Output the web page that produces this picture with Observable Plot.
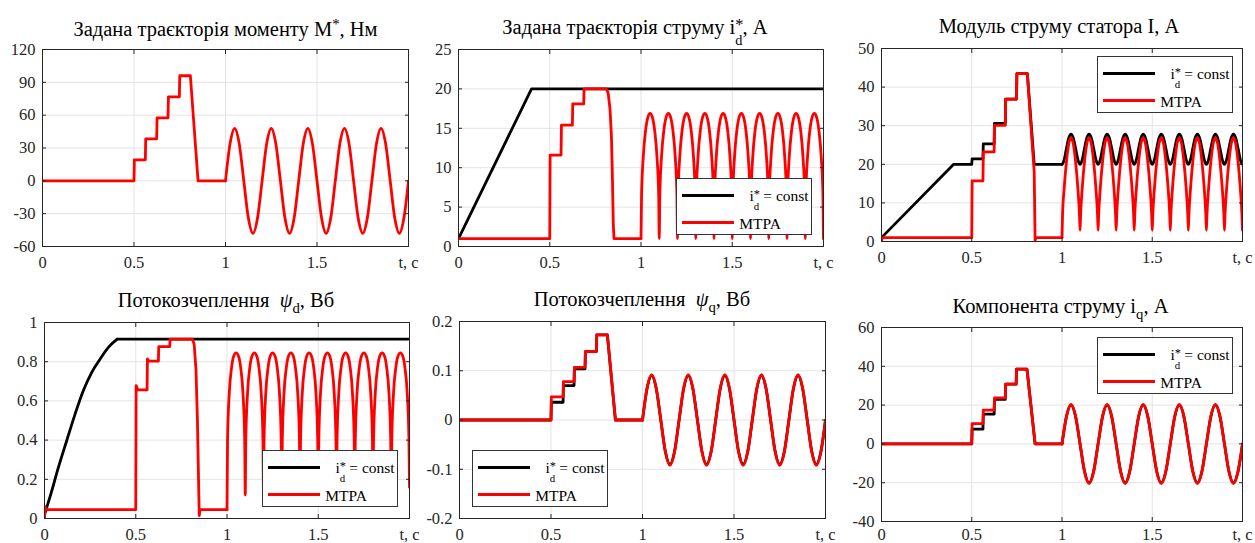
<!DOCTYPE html>
<html><head><meta charset="utf-8">
<script src="https://cdn.jsdelivr.net/npm/d3@7"></script>
<script src="https://cdn.jsdelivr.net/npm/@observablehq/plot@0.6"></script>
<style>
html,body{margin:0;padding:0;background:#fff;}
#root{position:relative;width:1255px;height:543px;overflow:hidden;font-family:"Liberation Serif","Times New Roman",serif;}
#root svg{position:absolute;overflow:visible;}
.title{position:absolute;white-space:nowrap;font-size:20.5px;line-height:1;color:#000;transform:translateX(-50%);}
.title .sup{position:relative;top:-0.45em;font-size:0.72em;}
.title .sub{position:relative;top:0.42em;font-size:0.72em;}
.ss{position:relative;display:inline-block;width:0.36em;height:0;}
.ss .a{position:absolute;left:0;top:-1.07em;font-size:0.8em;line-height:1;}
.ss .b{position:absolute;left:0;top:-0.07em;font-size:0.7em;line-height:1;}
.legend{position:absolute;background:#fff;border:1px solid #333;box-sizing:border-box;width:136px;height:57px;font-size:15.5px;line-height:1;color:#000;}
.legend .ln{position:absolute;left:4.7px;width:52px;height:3px;}
.legend .lt{position:absolute;white-space:nowrap;}
</style></head><body><div id="root"></div>
<script>
// ---------- data ----------
const xTicks = [0, 0.5, 1, 1.5, 2];
const xTickLabels = ["0", "0.5", "1", "1.5", "t, c"];

const yTicksM = [-60, -30, 0, 30, 60, 90, 120];
const yTicksId = [0, 5, 10, 15, 20, 25];
const yTicksI = [0, 10, 20, 30, 40, 50];
const yTicksPsiD = [0, 0.2, 0.4, 0.6, 0.8, 1];
const yTicksPsiQ = [-0.2, -0.1, 0, 0.1, 0.2];
const yTicksIq = [-40, -20, 0, 20, 40, 60];

const seriesNames = ["i*d = const", "MTPA"];

// shared time bases for the oscillating part (t >= 1 s)
const tSine = [1, 1.025, 1.05, 1.075, 1.1, 1.125, 1.15, 1.175, 1.2, 1.225, 1.25, 1.275, 1.3, 1.325, 1.35, 1.375,
  1.4, 1.425, 1.45, 1.475, 1.5, 1.525, 1.55, 1.575, 1.6, 1.625, 1.65, 1.675, 1.7, 1.725, 1.75, 1.775,
  1.8, 1.825, 1.85, 1.875, 1.9, 1.925, 1.95, 1.975, 2];
const tHump = [
  1, 1.003, 1.0125, 1.025, 1.0375, 1.05, 1.0625, 1.075, 1.0875, 1.097,
  1.1, 1.103, 1.1125, 1.125, 1.1375, 1.15, 1.1625, 1.175, 1.1875, 1.197,
  1.2, 1.203, 1.2125, 1.225, 1.2375, 1.25, 1.2625, 1.275, 1.2875, 1.297,
  1.3, 1.303, 1.3125, 1.325, 1.3375, 1.35, 1.3625, 1.375, 1.3875, 1.397,
  1.4, 1.403, 1.4125, 1.425, 1.4375, 1.45, 1.4625, 1.475, 1.4875, 1.497,
  1.5, 1.503, 1.5125, 1.525, 1.5375, 1.55, 1.5625, 1.575, 1.5875, 1.597,
  1.6, 1.603, 1.6125, 1.625, 1.6375, 1.65, 1.6625, 1.675, 1.6875, 1.697,
  1.7, 1.703, 1.7125, 1.725, 1.7375, 1.75, 1.7625, 1.775, 1.7875, 1.797,
  1.8, 1.803, 1.8125, 1.825, 1.8375, 1.85, 1.8625, 1.875, 1.8875, 1.897,
  1.9, 1.903, 1.9125, 1.925, 1.9375, 1.95, 1.9625, 1.975, 1.9875, 1.997,
  2];

// Panel 1: torque reference M*, N·m
const torquePre = [[0,0],[0.5,0],[0.502,19.2],[0.562,19.2],[0.564,38.4],[0.624,38.4],[0.626,57.6],[0.686,57.6],
  [0.688,76.8],[0.748,76.8],[0.75,96],[0.808,96],[0.85,0]];
const torqueOsc = [0, 34, 48, 34, 0, -34, -48, -34, 0, 34, 48, 34, 0, -34, -48, -34,
  0, 34, 48, 34, 0, -34, -48, -34, 0, 34, 48, 34, 0, -34, -48, -34,
  0, 34, 48, 34, 0, -34, -48, -34, 0];

// Panel 2: current reference i*d, A
const idConst = [[0,1],[0.4,20],[2,20]];
const idMtpaPre = [[0,1],[0.5,1],[0.502,11.6],[0.562,11.6],[0.564,15.4],[0.624,15.4],[0.626,18.1],[0.686,18.1],
  [0.688,20],[0.81,20],[0.82,19.5],[0.83,17.5],[0.838,14],[0.844,8],[0.848,3],[0.852,1]];
const idMtpaOsc = [
  1, 6.4, 11.4, 14.7, 16.4, 16.9, 16.4, 14.7, 11.4, 6.4,
  1, 6.4, 11.4, 14.7, 16.4, 16.9, 16.4, 14.7, 11.4, 6.4,
  1, 6.4, 11.4, 14.7, 16.4, 16.9, 16.4, 14.7, 11.4, 6.4,
  1, 6.4, 11.4, 14.7, 16.4, 16.9, 16.4, 14.7, 11.4, 6.4,
  1, 6.4, 11.4, 14.7, 16.4, 16.9, 16.4, 14.7, 11.4, 6.4,
  1, 6.4, 11.4, 14.7, 16.4, 16.9, 16.4, 14.7, 11.4, 6.4,
  1, 6.4, 11.4, 14.7, 16.4, 16.9, 16.4, 14.7, 11.4, 6.4,
  1, 6.4, 11.4, 14.7, 16.4, 16.9, 16.4, 14.7, 11.4, 6.4,
  1, 6.4, 11.4, 14.7, 16.4, 16.9, 16.4, 14.7, 11.4, 6.4,
  1, 6.4, 11.4, 14.7, 16.4, 16.9, 16.4, 14.7, 11.4, 6.4,
  1];

// Panel 3: stator current magnitude I, A
const iConstPre = [[0,1],[0.4,20],[0.5,20],[0.502,21.4],[0.562,21.4],[0.564,25.3],[0.624,25.3],[0.626,30.6],[0.686,30.6],
  [0.688,36.9],[0.748,36.9],[0.75,43.5],[0.808,43.5],[0.846,20]];
const iConstOsc = [
  20, 20.1, 21.3, 24.2, 26.8, 27.8, 26.8, 24.2, 21.3, 20.1,
  20, 20.1, 21.3, 24.2, 26.8, 27.8, 26.8, 24.2, 21.3, 20.1,
  20, 20.1, 21.3, 24.2, 26.8, 27.8, 26.8, 24.2, 21.3, 20.1,
  20, 20.1, 21.3, 24.2, 26.8, 27.8, 26.8, 24.2, 21.3, 20.1,
  20, 20.1, 21.3, 24.2, 26.8, 27.8, 26.8, 24.2, 21.3, 20.1,
  20, 20.1, 21.3, 24.2, 26.8, 27.8, 26.8, 24.2, 21.3, 20.1,
  20, 20.1, 21.3, 24.2, 26.8, 27.8, 26.8, 24.2, 21.3, 20.1,
  20, 20.1, 21.3, 24.2, 26.8, 27.8, 26.8, 24.2, 21.3, 20.1,
  20, 20.1, 21.3, 24.2, 26.8, 27.8, 26.8, 24.2, 21.3, 20.1,
  20, 20.1, 21.3, 24.2, 26.8, 27.8, 26.8, 24.2, 21.3, 20.1,
  20];
const iMtpaPre = [[0,0],[0.004,1],[0.5,1],[0.502,15.7],[0.562,15.7],[0.564,23.2],[0.624,23.2],[0.626,30.1],[0.686,30.1],
  [0.688,36.9],[0.748,36.9],[0.75,43.5],[0.808,43.5],[0.846,18],[0.851,0.3],[0.856,1]];
const iMtpaOsc = [
  1, 6.8, 14, 20.8, 25.3, 26.9, 25.3, 20.8, 14, 6.8,
  2.9, 6.8, 14, 20.8, 25.3, 26.9, 25.3, 20.8, 14, 6.8,
  2.9, 6.8, 14, 20.8, 25.3, 26.9, 25.3, 20.8, 14, 6.8,
  2.9, 6.8, 14, 20.8, 25.3, 26.9, 25.3, 20.8, 14, 6.8,
  2.9, 6.8, 14, 20.8, 25.3, 26.9, 25.3, 20.8, 14, 6.8,
  2.9, 6.8, 14, 20.8, 25.3, 26.9, 25.3, 20.8, 14, 6.8,
  2.9, 6.8, 14, 20.8, 25.3, 26.9, 25.3, 20.8, 14, 6.8,
  2.9, 6.8, 14, 20.8, 25.3, 26.9, 25.3, 20.8, 14, 6.8,
  2.9, 6.8, 14, 20.8, 25.3, 26.9, 25.3, 20.8, 14, 6.8,
  2.9, 6.8, 14, 20.8, 25.3, 26.9, 25.3, 20.8, 14, 6.8,
  2.9];

// Panel 4: flux linkage psi_d, Wb
const psiDConstRise = [[0,0.02],[0.03,0.11],[0.077,0.263],[0.122,0.398],[0.168,0.534],[0.213,0.653],[0.259,0.746],
  [0.305,0.814],[0.35,0.873],[0.398,0.915]];
const psiDConstHold = [[0.398,0.915],[2,0.915]];
const psiDMtpaPre = [[0,0],[0.003,0.06],[0.01,0.045],[0.5,0.045],[0.502,0.678],[0.512,0.656],[0.562,0.656],[0.564,0.814],
  [0.572,0.803],[0.624,0.803],[0.626,0.877],[0.686,0.877],[0.688,0.915],[0.81,0.915],[0.82,0.89],[0.83,0.76],
  [0.838,0.5],[0.844,0.2],[0.848,0.015],[0.852,0.045]];
const psiDMtpaOsc = [
  0.045, 0.4, 0.64, 0.77, 0.83, 0.845, 0.83, 0.77, 0.64, 0.4,
  0.12, 0.4, 0.64, 0.77, 0.83, 0.845, 0.83, 0.77, 0.64, 0.4,
  0.12, 0.4, 0.64, 0.77, 0.83, 0.845, 0.83, 0.77, 0.64, 0.4,
  0.12, 0.4, 0.64, 0.77, 0.83, 0.845, 0.83, 0.77, 0.64, 0.4,
  0.12, 0.4, 0.64, 0.77, 0.83, 0.845, 0.83, 0.77, 0.64, 0.4,
  0.12, 0.4, 0.64, 0.77, 0.83, 0.845, 0.83, 0.77, 0.64, 0.4,
  0.12, 0.4, 0.64, 0.77, 0.83, 0.845, 0.83, 0.77, 0.64, 0.4,
  0.12, 0.4, 0.64, 0.77, 0.83, 0.845, 0.83, 0.77, 0.64, 0.4,
  0.12, 0.4, 0.64, 0.77, 0.83, 0.845, 0.83, 0.77, 0.64, 0.4,
  0.12, 0.4, 0.64, 0.77, 0.83, 0.845, 0.83, 0.77, 0.64, 0.4,
  0.16];

// Panel 5: flux linkage psi_q, Wb
const psiQConstPre = [[0,0],[0.5,0],[0.502,0.036],[0.566,0.036],[0.568,0.07],[0.626,0.07],[0.628,0.104],[0.686,0.104],
  [0.688,0.139],[0.748,0.139],[0.75,0.173],[0.808,0.173],[0.852,0]];
const psiQConstOsc = [0, 0.064, 0.09, 0.064, 0, -0.064, -0.09, -0.064, 0, 0.064, 0.09, 0.064, 0, -0.064, -0.09, -0.064,
  0, 0.064, 0.09, 0.064, 0, -0.064, -0.09, -0.064, 0, 0.064, 0.09, 0.064, 0, -0.064, -0.09, -0.064,
  0, 0.064, 0.09, 0.064, 0, -0.064, -0.09, -0.064, 0];
const psiQMtpaPre = [[0,0],[0.5,0],[0.502,0.047],[0.566,0.047],[0.568,0.078],[0.626,0.078],[0.628,0.107],[0.686,0.107],
  [0.688,0.139],[0.748,0.139],[0.75,0.173],[0.808,0.173],[0.852,0]];
const psiQMtpaOsc = [0, 0.065, 0.092, 0.065, 0, -0.065, -0.092, -0.065, 0, 0.065, 0.092, 0.065, 0, -0.065, -0.092, -0.065,
  0, 0.065, 0.092, 0.065, 0, -0.065, -0.092, -0.065, 0, 0.065, 0.092, 0.065, 0, -0.065, -0.092, -0.065,
  0, 0.065, 0.092, 0.065, 0, -0.065, -0.092, -0.065, 0];

// Panel 6: current component i_q, A
const iqConstPre = [[0,0],[0.5,0],[0.502,7.6],[0.562,7.6],[0.564,15.3],[0.624,15.3],[0.626,22.9],[0.686,22.9],
  [0.688,30.8],[0.746,30.8],[0.748,38.5],[0.806,38.5],[0.851,0]];
const iqConstOsc = [0, 14.2, 20.1, 14.2, 0, -14.2, -20.1, -14.2, 0, 14.2, 20.1, 14.2, 0, -14.2, -20.1, -14.2,
  0, 14.2, 20.1, 14.2, 0, -14.2, -20.1, -14.2, 0, 14.2, 20.1, 14.2, 0, -14.2, -20.1, -14.2,
  0, 14.2, 20.1, 14.2, 0, -14.2, -20.1, -14.2, 0];
const iqMtpaPre = [[0,0],[0.5,0],[0.502,10.5],[0.562,10.5],[0.564,17.4],[0.624,17.4],[0.626,23.7],[0.686,23.7],
  [0.688,30.8],[0.746,30.8],[0.748,38.5],[0.806,38.5],[0.851,0]];
const iqMtpaOsc = [0, 14.4, 20.4, 14.4, 0, -14.4, -20.4, -14.4, 0, 14.4, 20.4, 14.4, 0, -14.4, -20.4, -14.4,
  0, 14.4, 20.4, 14.4, 0, -14.4, -20.4, -14.4, 0, 14.4, 20.4, 14.4, 0, -14.4, -20.4, -14.4,
  0, 14.4, 20.4, 14.4, 0, -14.4, -20.4, -14.4, 0];

// ---------- build ----------
const pairs = arr => arr.map(([t, v]) => ({t, v}));
const zipTV = (times, vals) => times.map((t, i) => ({t, v: vals[i]}));
// a series = linear part (steps / ramps, joined to the first oscillation sample) + smooth oscillating part
function series(pre, times, vals, color) {
  const segs = [];
  const lin = pairs(pre);
  if (times) lin.push({t: times[0], v: vals[0]});
  segs.push({data: lin, curve: "linear"});
  if (times) segs.push({data: zipTV(times, vals), curve: "monotone-x"});
  return {segs, color};
}
const BLACK = "#000000", RED = "#ff0000";

const panels = [
  {box: {l: 42, r: 408, t: 49, b: 246}, yDomain: [-60, 120], yTicks: yTicksM,
   lines: [series(torquePre, tSine, torqueOsc, RED)]},
  {box: {l: 458, r: 823, t: 49, b: 246}, yDomain: [0, 25], yTicks: yTicksId,
   lines: [series(idConst, null, null, BLACK), series(idMtpaPre, tHump, idMtpaOsc, RED)]},
  {box: {l: 881, r: 1242, t: 48, b: 241}, yDomain: [0, 50], yTicks: yTicksI,
   lines: [series(iConstPre, tHump, iConstOsc, BLACK), series(iMtpaPre, tHump, iMtpaOsc, RED)]},
  {box: {l: 44, r: 409, t: 322, b: 518}, yDomain: [0, 1], yTicks: yTicksPsiD,
   lines: [{segs: [{data: pairs(psiDConstRise), curve: "monotone-x"}, {data: pairs(psiDConstHold), curve: "linear"}], color: BLACK},
           series(psiDMtpaPre, tHump, psiDMtpaOsc, RED)]},
  {box: {l: 459, r: 825, t: 321, b: 518}, yDomain: [-0.2, 0.2], yTicks: yTicksPsiQ,
   lines: [series(psiQConstPre, tSine, psiQConstOsc, BLACK), series(psiQMtpaPre, tSine, psiQMtpaOsc, RED)]},
  {box: {l: 881, r: 1242, t: 327, b: 521}, yDomain: [-40, 60], yTicks: yTicksIq, xPad: 7,
   lines: [series(iqConstPre, tSine, iqConstOsc, BLACK), series(iqMtpaPre, tSine, iqMtpaOsc, RED)]}
];

const root = document.getElementById("root");
const mL = 50, mR = 25, mT = 8, mB = 32;
const GRID = "#e3e3e3", AX = "#262626";

for (const p of panels) {
  const w = p.box.r - p.box.l, h = p.box.b - p.box.t;
  const fmtX = d => xTickLabels[xTicks.indexOf(d)];
  const lineMarks = [];
  for (const s of p.lines) for (const g of s.segs)
    lineMarks.push(Plot.line(g.data, {x: "t", y: "v", stroke: s.color, strokeWidth: 2.8, curve: g.curve, clip: true}));
  const chart = Plot.plot({
    width: w + mL + mR, height: h + mT + mB,
    marginLeft: mL, marginRight: mR, marginTop: mT, marginBottom: mB,
    x: {domain: [0, 2], label: null},
    y: {domain: p.yDomain, label: null},
    style: {fontFamily: "Liberation Serif", fontSize: "16.5px", color: AX, background: "transparent", overflow: "visible"},
    marks: [
      Plot.gridX(xTicks.slice(1, -1), {stroke: GRID, strokeOpacity: 1}),
      Plot.gridY(p.yTicks.slice(1, -1), {stroke: GRID, strokeOpacity: 1}),
      ...lineMarks,
      Plot.frame({stroke: AX, strokeWidth: 1}),
      Plot.axisX(xTicks, {anchor: "bottom", tickSize: 0, tickPadding: p.xPad ?? 10, tickFormat: fmtX, label: null}),
      Plot.axisY(p.yTicks, {anchor: "left", tickSize: 0, tickPadding: 7, tickFormat: d => String(d), label: null}),
      Plot.axisX(xTicks, {anchor: "bottom", tickSize: -4, tickFormat: () => "", label: null}),
      Plot.axisX(xTicks, {anchor: "top", tickSize: -4, tickFormat: () => "", label: null}),
      Plot.axisY(p.yTicks, {anchor: "left", tickSize: -4, tickFormat: () => "", label: null}),
      Plot.axisY(p.yTicks, {anchor: "right", tickSize: -4, tickFormat: () => "", label: null})
    ]
  });
  chart.style.left = (p.box.l - mL) + "px";
  chart.style.top = (p.box.t - mT) + "px";
  root.appendChild(chart);
}

// ---------- titles ----------
const STACK = '<span class="ss"><span class="a">*</span><span class="b">d</span></span>';
const titles = [
  {cx: 225.5, base: 36, html: 'Задана траєкторія моменту M<span class="sup">*</span>, Нм'},
  {cx: 635, base: 34.3, html: 'Задана траєкторія струму i' + STACK + ', А'},
  {cx: 1059, base: 33.3, html: 'Модуль струму статора I, А'},
  {cx: 226, base: 307, html: 'Потокозчеплення&nbsp; <i>ψ</i><span class="sub">d</span>, Вб'},
  {cx: 642, base: 306.3, html: 'Потокозчеплення&nbsp; <i>ψ</i><span class="sub">q</span>, Вб'},
  {cx: 1060.5, base: 312.7, html: 'Компонента струму i<span class="sub">q</span>, А'}
];
for (const t of titles) {
  const d = document.createElement("div");
  d.className = "title";
  d.innerHTML = t.html;
  d.style.left = t.cx + "px";
  d.style.top = (t.base - 17.2) + "px";
  root.appendChild(d);
}

// ---------- legends ----------
const legends = [{l: 676, t: 178}, {l: 1097, t: 56}, {l: 262, t: 450}, {l: 472, t: 450}, {l: 1097, t: 337}];
for (const L of legends) {
  const d = document.createElement("div");
  d.className = "legend";
  d.style.left = L.l + "px";
  d.style.top = L.t + "px";
  d.innerHTML =
    `<div class="ln" style="top:15.2px;background:${BLACK}"></div>` +
    `<div class="ln" style="top:41.5px;background:${RED}"></div>` +
    `<div class="lt" style="left:72.5px;top:9.3px">i<span class="ss"><span class="a">*</span><span class="b">d</span></span> = const</div>` +
    `<div class="lt" style="left:62.3px;top:36.8px">${seriesNames[1]}</div>`;
  root.appendChild(d);
}
</script></body></html>
